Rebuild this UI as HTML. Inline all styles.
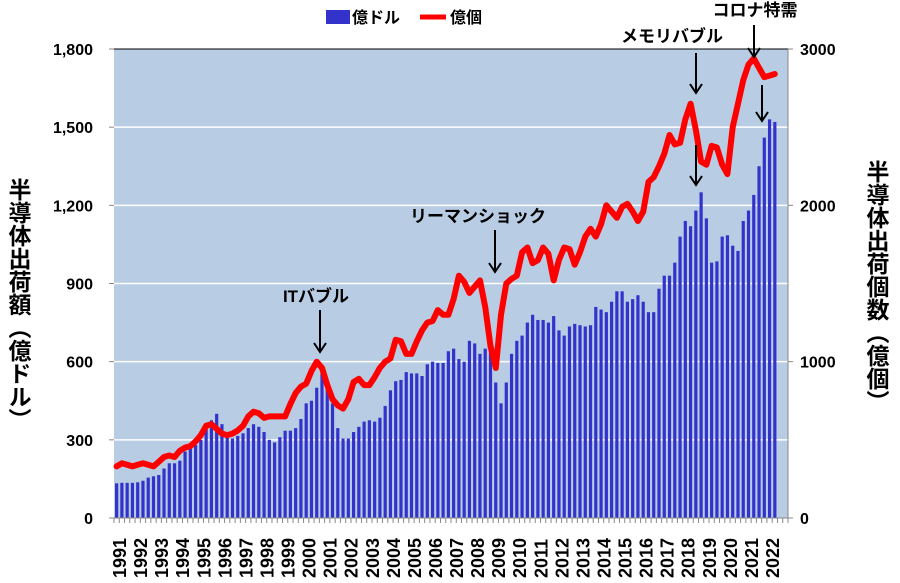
<!DOCTYPE html>
<html><head><meta charset="utf-8">
<style>
body{margin:0;background:#fff;width:900px;height:578px;overflow:hidden;font-family:"Liberation Sans","Noto Sans CJK JP",sans-serif;}
</style></head><body>
<svg id="s" width="900" height="578" xmlns="http://www.w3.org/2000/svg" font-family="Liberation Sans, Noto Sans CJK JP, sans-serif"></svg>
<script>
const s=document.getElementById('s');
let h='';
const L=114,R=788,T=49,B=518,qw=(R-L)/128;
h+=`<rect x="${L}" y="${T}" width="${R-L}" height="${B-T}" fill="#b8cce4"/>`;
for(let i=1;i<=5;i++){const y=B-i*(B-T)/6;h+=`<line x1="${L}" x2="${R}" y1="${y}" y2="${y}" stroke="#fff" stroke-width="1.5"/>`;}
h+=`<line x1="${L}" x2="${R}" y1="${T}" y2="${T}" stroke="#000" stroke-width="1"/>`;
const bars=[133,135,135,135,137,143,155,160,165,190,210,210,220,255,270,280,300,350,375,400,360,320,305,315,325,345,360,350,330,300,290,310,335,335,345,380,440,450,500,555,520,440,345,305,305,330,350,370,375,370,385,430,490,525,530,560,555,555,545,590,600,595,595,640,650,610,600,680,670,630,650,690,520,440,520,630,680,700,750,780,760,760,750,775,720,700,735,745,740,735,740,810,800,790,830,870,870,830,840,855,830,790,790,880,930,930,980,1080,1140,1120,1180,1250,1150,980,985,1080,1085,1045,1025,1140,1180,1240,1350,1460,1530,1520];
const line=[330,350,340,330,340,350,340,330,360,390,400,390,430,450,460,490,530,590,600,570,540,530,540,560,590,650,680,670,640,650,650,650,650,730,800,840,860,940,1000,960,850,760,720,700,760,870,890,850,850,900,960,1000,1020,1140,1130,1050,1050,1130,1200,1250,1260,1330,1300,1300,1400,1550,1510,1440,1480,1520,1350,1100,960,1300,1500,1530,1550,1700,1730,1630,1650,1730,1690,1520,1650,1730,1720,1620,1700,1800,1850,1800,1880,2000,1960,1920,1990,2010,1960,1900,1960,2150,2180,2250,2330,2450,2390,2400,2550,2650,2480,2280,2260,2380,2370,2260,2200,2500,2650,2800,2900,2940,2880,2820,2830,2840];
bars.forEach((v,i)=>{const x=L+qw*(i+0.5);const y=B-v*(B-T)/1800;h+=`<rect x="${x-1.6}" y="${y}" width="3.2" height="${B-y}" fill="#3333cc"/>`;});
let p=line.map((v,i)=>`${(L+qw*(i+0.5)).toFixed(1)},${(B-v*(B-T)/3000).toFixed(1)}`).join(' ');
h+=`<polyline points="${p}" fill="none" stroke="#ff0000" stroke-width="6" stroke-linejoin="round" stroke-linecap="round"/>`;
h+=`<line x1="${L}" x2="${R}" y1="${B}" y2="${B}" stroke="#888"/>`;
h+=`<line x1="${R}" x2="${R}" y1="${T}" y2="${B}" stroke="#888"/>`;
for(let i=0;i<=128;i++){const x=L+qw*i;h+=`<line x1="${x}" x2="${x}" y1="${B}" y2="${B+5}" stroke="#888"/>`;}
const ll=['0','300','600','900','1,200','1,500','1,800'];
for(let i=0;i<=6;i++){const y=B-i*(B-T)/6;h+=`<text x="93" y="${y+6}" text-anchor="end" font-size="16" font-weight="bold">${ll[i]}</text><line x1="${L-5}" x2="${L}" y1="${y}" y2="${y}" stroke="#888"/>`;}
for(let i=0;i<=3;i++){const y=B-i*(B-T)/3;h+=`<text x="800" y="${y+6}" font-size="16" font-weight="bold">${i*1000}</text><line x1="${R}" x2="${R+5}" y1="${y}" y2="${y}" stroke="#888"/>`;}
for(let i=0;i<32;i++){const x=L+4+qw*4*i+1;h+=`<text transform="translate(${x+7},578) rotate(-90)" font-size="18" font-weight="bold">${1991+i}</text>`;}
h+=`<text x="18" y="178" style="writing-mode:vertical-rl" font-size="23" font-weight="bold">半導体出荷額（億ドル）</text>`;
h+=`<text x="876" y="160" style="writing-mode:vertical-rl" font-size="23" font-weight="bold">半導体出荷個数（億個）</text>`;
h+=`<rect x="326" y="10" width="24" height="14" fill="#3333cc"/><text x="352" y="23" font-size="16" font-weight="bold">億ドル</text>`;
h+=`<line x1="420" x2="446" y1="17" y2="17" stroke="#f00" stroke-width="5"/><text x="450" y="23" font-size="16" font-weight="bold">億個</text>`;
function arrow(x,y1,y2){h+=`<line x1="${x}" x2="${x}" y1="${y1}" y2="${y2}" stroke="#000" stroke-width="2"/><polyline points="${x-6},${y2-9} ${x},${y2} ${x+6},${y2-9}" fill="none" stroke="#000" stroke-width="2"/>`;}
h+=`<text x="316" y="302" text-anchor="middle" font-size="17" font-weight="bold">ITバブル</text>`;arrow(320,310,352);
h+=`<text x="478" y="222" text-anchor="middle" font-size="17" font-weight="bold">リーマンショック</text>`;arrow(495,230,272);
h+=`<text x="672" y="42" text-anchor="middle" font-size="17" font-weight="bold">メモリバブル</text>`;arrow(696,53,93);arrow(696,145,185);
h+=`<text x="755" y="16" text-anchor="middle" font-size="17" font-weight="bold">コロナ特需</text>`;arrow(754,25,57);arrow(762,85,121);
s.innerHTML=h;
</script>
</body></html>
